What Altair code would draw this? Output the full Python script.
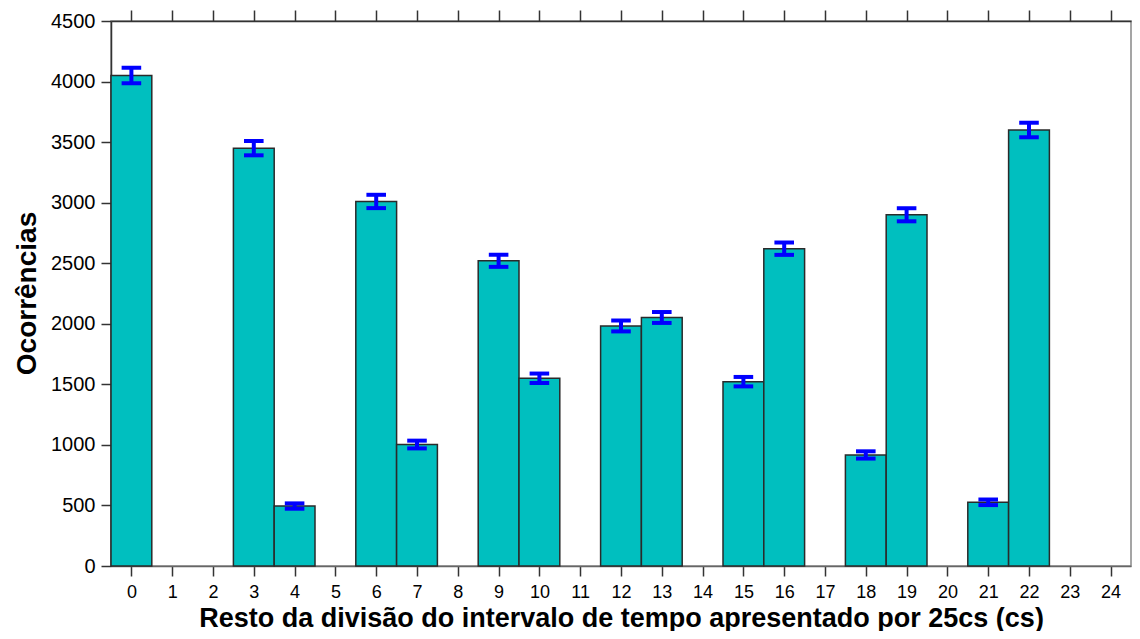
import altair as alt
import pandas as pd

categories = list(range(25))
counts = [4050, 0, 0, 3450, 495, 0, 3010, 1003, 0, 2520, 1550, 0, 1982, 2052,
          0, 1522, 2620, 0, 917, 2900, 0, 526, 3600, 0, 0]
errors = [64, 0, 0, 59, 22, 0, 55, 32, 0, 50, 39, 0, 45, 45,
          0, 39, 51, 0, 30, 54, 0, 23, 60, 0, 0]
tick_values = list(range(25))
y_ticks = list(range(0, 4501, 500))

df = pd.DataFrame({"cat": categories, "count": counts, "err": errors})

FONT = "Liberation Sans"
x_scale = alt.Scale(domain=[-0.5, 24.5], nice=False, zero=False)
y_scale = alt.Scale(domain=[0, 4500], nice=False)

base = alt.Chart(df).transform_filter("datum.count > 0").transform_calculate(
    x0="datum.cat - 0.5",
    x1="datum.cat + 0.5",
    lo="datum.count - datum.err",
    hi="datum.count + datum.err",
    c0="datum.cat - 0.24",
    c1="datum.cat + 0.24",
)

bars = base.mark_rect(color="#00BFBF", stroke="#2a2a2a", strokeWidth=1.5).encode(
    x=alt.X("x0:Q", scale=x_scale,
            axis=alt.Axis(values=tick_values, format="d", orient="bottom",
                          title="Resto da divisão do intervalo de tempo apresentado por 25cs (cs)",
                          labelFont=FONT, labelFontSize=18, labelColor="black",
                          labelPadding=7, tickSize=10, tickColor="#333", tickWidth=1.5,
                          domainColor="#666", domainWidth=1.5, grid=False,
                          titleFont=FONT, titleFontSize=27, titleFontWeight="bold",
                          titleColor="black", titleBaseline="alphabetic", titleY=60,
                          labelFlush=False, labelOverlap=False)),
    x2="x1:Q",
    y=alt.Y("count:Q", scale=y_scale,
            axis=alt.Axis(values=y_ticks, format="d", title="Ocorrências", grid=False,
                          labelFont=FONT, labelFontSize=20, labelColor="black",
                          labelPadding=6, tickSize=10, tickColor="#333", tickWidth=1.5,
                          domainColor="#333", domainWidth=1.5,
                          titleFont=FONT, titleFontSize=28, titleFontWeight="bold",
                          titleColor="black", titleX=-84, titleY=272,
                          titleBaseline="middle", titleAngle=270)),
    y2=alt.Y2(datum=0),
)

stems = base.mark_rule(color="#0000FF", strokeWidth=4, strokeCap="butt").encode(
    x=alt.X("cat:Q", scale=x_scale,
            axis=alt.Axis(values=tick_values, orient="top", labels=False, title=None,
                          tickSize=11, tickColor="#333", tickWidth=1.5,
                          domainColor="#333", domainWidth=1.5, grid=False)),
    y=alt.Y("lo:Q", scale=y_scale, axis=None),
    y2="hi:Q",
)

cap_hi = base.mark_rule(color="#0000FF", strokeWidth=4, strokeCap="butt").encode(
    x=alt.X("c0:Q", scale=x_scale, axis=None),
    x2="c1:Q",
    y=alt.Y("hi:Q", scale=y_scale, axis=None),
)
cap_lo = base.mark_rule(color="#0000FF", strokeWidth=4, strokeCap="butt").encode(
    x=alt.X("c0:Q", scale=x_scale, axis=None),
    x2="c1:Q",
    y=alt.Y("lo:Q", scale=y_scale, axis=None),
)

chart = alt.layer(bars, stems, cap_hi, cap_lo).resolve_axis(
    x="independent", y="independent"
).properties(
    width=1020,
    height=545,
    autosize=alt.AutoSizeParams(type="none"),
    padding={"left": 103, "top": 13, "right": 1, "bottom": 65},
    background="white",
).configure_view(stroke="#888", strokeWidth=1.5)

chart.save("out.html", embed_options={"renderer": "svg", "actions": False})
